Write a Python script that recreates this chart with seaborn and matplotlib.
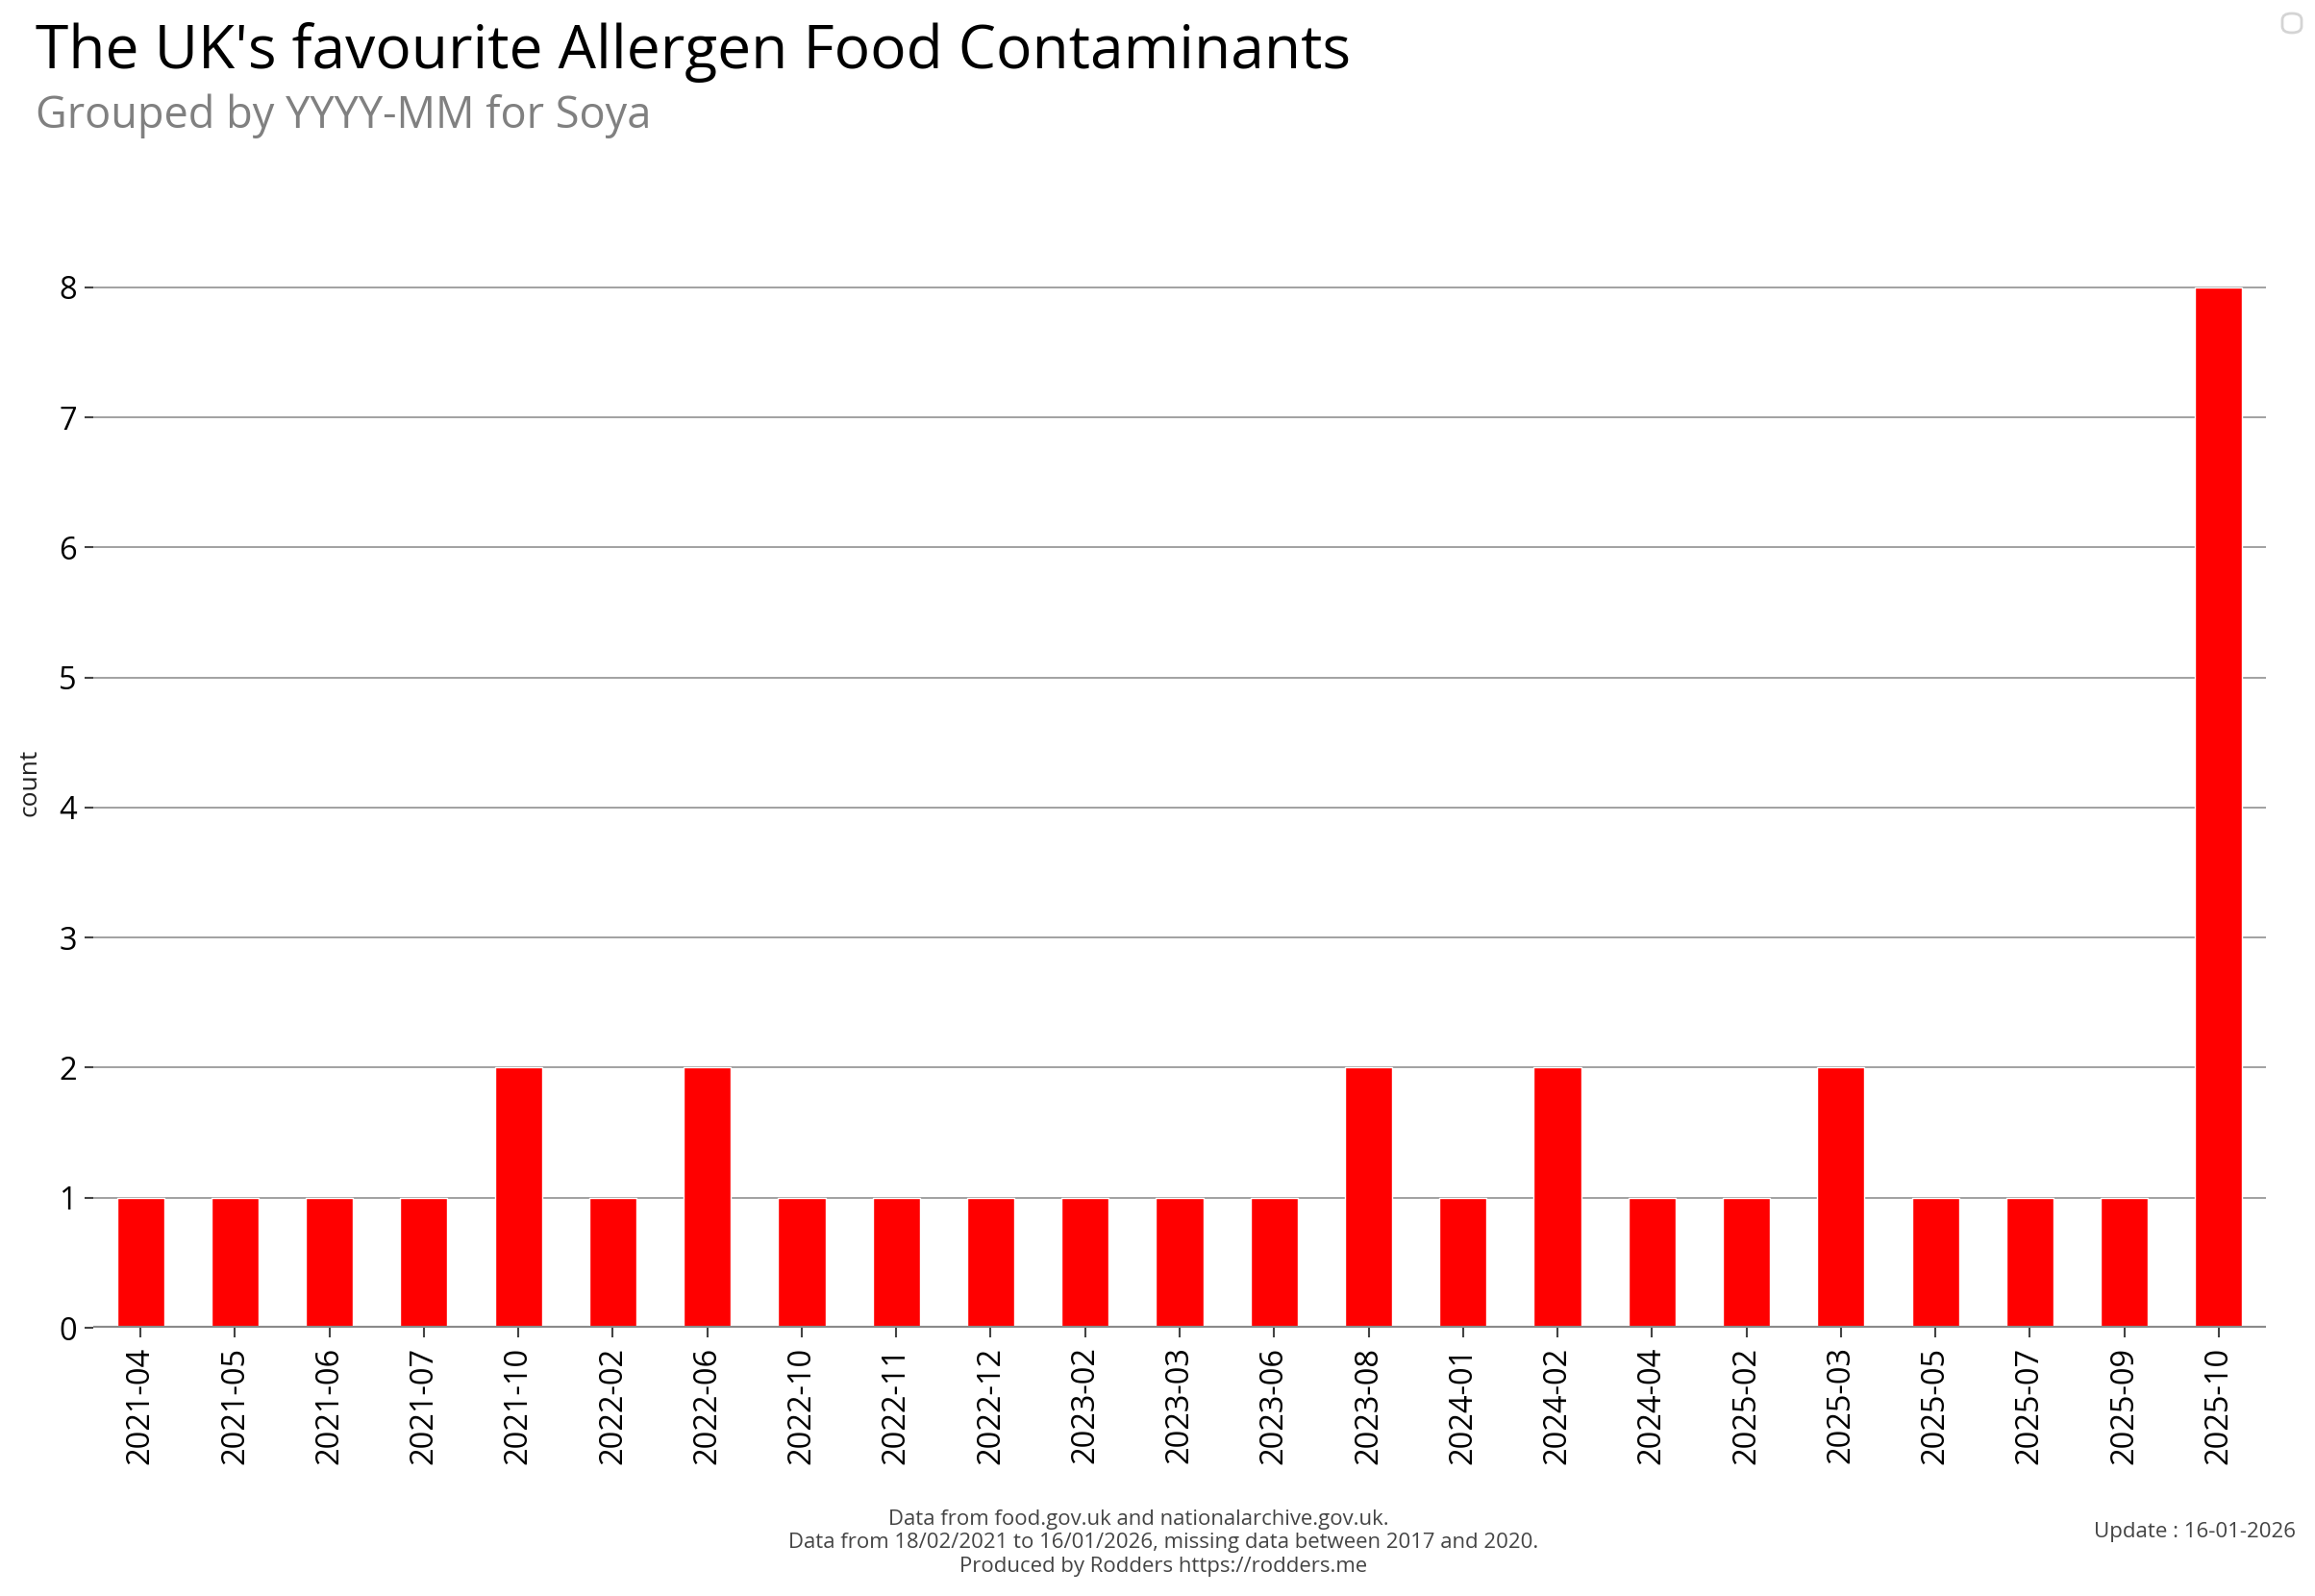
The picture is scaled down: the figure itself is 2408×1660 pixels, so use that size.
import matplotlib
matplotlib.use("Agg")
import matplotlib.pyplot as plt
from matplotlib.patches import FancyBboxPatch
import seaborn as sns
import pandas as pd

# Monthly counts of Soya allergen alerts
months = ["2021-04", "2021-05", "2021-06", "2021-07", "2021-10", "2022-02",
          "2022-06", "2022-10", "2022-11", "2022-12", "2023-02", "2023-03",
          "2023-06", "2023-08", "2024-01", "2024-02", "2024-04", "2025-02",
          "2025-03", "2025-05", "2025-07", "2025-09", "2025-10"]
counts = [1, 1, 1, 1, 2, 1, 2, 1, 1, 1, 1, 1, 1, 2, 1, 2, 1, 1, 2, 1, 1, 1, 8]
y_ticks = [0, 1, 2, 3, 4, 5, 6, 7, 8]

df = pd.DataFrame({"month": months, "count": counts})

sns.set_style("white")
plt.rcParams['font.family'] = ['Open Sans', 'DejaVu Sans']

W, H = 2408, 1660
fig = plt.figure(figsize=(W / 100, H / 100), dpi=100)

# plot area in pixels
left, right, top, bottom = 97, 2357, 242, 1381
ax = fig.add_axes([left / W, 1 - bottom / H, (right - left) / W, (bottom - top) / H])

sns.barplot(data=df, x="month", y="count", color="#ff0000", width=0.5,
            saturation=1, ax=ax, zorder=3)

ax.set_xlim(-0.5, len(months) - 0.5)
ax.set_ylim(0, 8 / 0.95)
ax.set_yticks(y_ticks)
ax.grid(axis="y", color="#9a9a9a", linewidth=1.3, zorder=0)
ax.axhline(0, color="#8a8a8a", linewidth=3, zorder=4)
for s in ax.spines.values():
    s.set_visible(False)

ax.tick_params(axis="x", labelrotation=90, labelsize=23.5, length=7, width=1.5,
               color="#444444", pad=7, bottom=True, labelcolor="black")
ax.tick_params(axis="y", labelsize=23.5, length=6.5, width=1.5,
               color="#444444", pad=6, left=True, labelcolor="black")
ax.set_xlabel("")
ax.set_ylabel("")
fig.text(31 / W, 1 - 814 / H, "count", rotation=90, ha="center", va="center",
         fontsize=19, color="#222222")

# titles
fig.text(37 / W, 1 - 71 / H, "The UK's favourite Allergen Food Contaminants",
         fontsize=44.8, color="black", ha="left", va="baseline")
fig.text(37 / W, 1 - 133 / H, "Grouped by YYYY-MM for Soya",
         fontsize=32.5, color="#808080", ha="left", va="baseline")

# footer (first line sits a little left of centre in the original)
footer = ["Data from food.gov.uk and nationalarchive.gov.uk.",
          "Data from 18/02/2021 to 16/01/2026, missing data between 2017 and 2020.",
          "Produced by Rodders https://rodders.me"]
footer_x = [1184, 1210, 1210]
for i, line in enumerate(footer):
    fig.text(footer_x[i] / W, 1 - (1580 + i * 24.5) / H, line, fontsize=15.9,
             color="#444444", ha="center", va="center")
fig.text(2388 / W, 1 - 1593 / H, "Update : 16-01-2026", fontsize=16,
         color="#444444", ha="right", va="center")

# empty legend box in the corner
box = FancyBboxPatch((2374 / W, 1 - 34 / H), 20 / W, 20 / H,
                     boxstyle="round,pad=0,rounding_size=0.004",
                     transform=fig.transFigure, facecolor="white",
                     edgecolor="#d4d4d4", linewidth=2)
fig.patches.append(box)

fig.savefig("out.png", dpi=100)
